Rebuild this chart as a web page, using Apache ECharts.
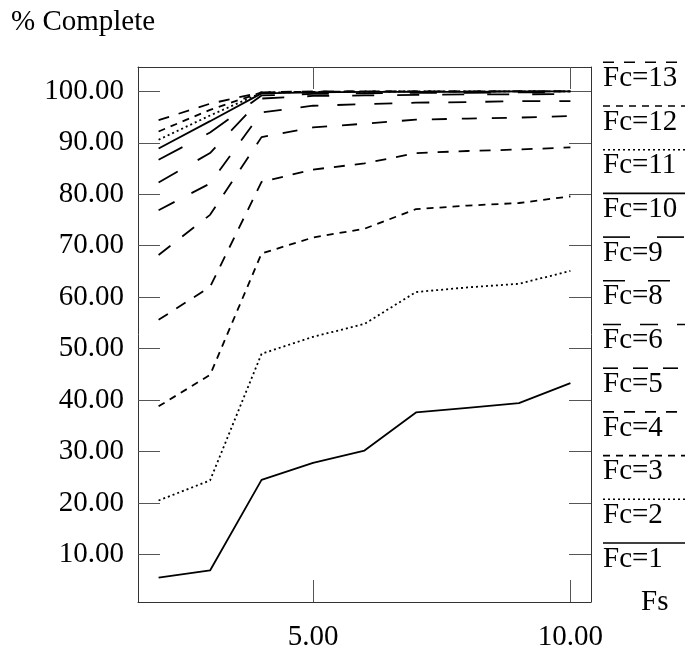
<!DOCTYPE html>
<html>
<head>
<meta charset="utf-8">
<script src="https://cdn.jsdelivr.net/npm/echarts@6/dist/echarts.min.js"></script>
<style>
  html, body { margin: 0; padding: 0; background: #fff; }
  #chart { width: 688px; height: 652px; }
</style>
</head>
<body>
<div id="chart"></div>
<script>
// Fs values along the x axis
var fsValues = [2, 3, 4, 5, 6, 7, 8, 9, 10];
var xTicks = [5, 10];
var yTicks = [10, 20, 30, 40, 50, 60, 70, 80, 90, 100];

var fcNames = ['Fc=1', 'Fc=2', 'Fc=3', 'Fc=4', 'Fc=5', 'Fc=6', 'Fc=8', 'Fc=9', 'Fc=10', 'Fc=11', 'Fc=12', 'Fc=13'];
var fc1 = [5.5, 6.9, 24.5, 27.8, 30.2, 37.6, 38.5, 39.4, 43.3];
var fc2 = [20.5, 24.4, 49.0, 52.3, 54.8, 61.0, 61.9, 62.6, 65.1];
var fc3 = [38.8, 44.9, 68.5, 71.6, 73.3, 77.1, 77.8, 78.3, 79.6];
var fc4 = [55.6, 62.0, 82.4, 84.8, 86.0, 88.0, 88.4, 88.7, 89.1];
var fc5 = [68.2, 76.0, 91.1, 93.0, 93.7, 94.5, 94.7, 94.9, 95.2];
var fc6 = [76.9, 82.1, 95.9, 97.2, 97.5, 97.8, 97.9, 98.1, 98.1];
var fc8 = [82.3, 88.0, 98.6, 99.1, 99.2, 99.3, 99.4, 99.4, 99.5];
var fc9 = [86.7, 92.0, 99.2, 99.5, 99.6, 99.7, 99.7, 99.8, 99.8];
var fc10 = [88.9, 94.2, 99.6, 99.8, 99.9, 99.9, 99.9, 100, 100];
var fc11 = [90.6, 95.3, 99.7, 99.9, 99.9, 100, 100, 100, 100];
var fc12 = [92.2, 96.4, 99.8, 99.9, 100, 100, 100, 100, 100];
var fc13 = [94.4, 97.6, 99.8, 100, 100, 100, 100, 100, 100];
var fcValues = [fc1, fc2, fc3, fc4, fc5, fc6, fc8, fc9, fc10, fc11, fc12, fc13];

// line dash styles repeat every 8 series
var dashes = ['solid', [2, 3], [7, 6], [11, 10], [15, 15], [18, 19], [22, 23], [27, 27]];

var FAMILY = '"Liberation Serif", "DejaVu Serif", serif';
var FONT = '29px ' + FAMILY;

function pad(v) {
  return (v.max - v.min) * 0.05;
}
function fmt(v) {
  return v.toFixed(2);
}

var series = fcValues.map(function (vals, i) {
  return {
    name: fcNames[i],
    type: 'line',
    symbol: 'none',
    silent: true,
    data: fsValues.map(function (x, j) { return [x, vals[j]]; }),
    lineStyle: { color: '#000', width: 1.8, type: dashes[i % 8], cap: 'butt' }
  };
});

// legend: sample line above each label, Fc=1 at the bottom
var legendItems = [];
fcNames.forEach(function (name, i) {
  var y = 543 - i * 43.7;
  legendItems.push({
    type: 'line',
    shape: { x1: 603, y1: y, x2: 685, y2: y },
    style: { stroke: '#000', lineWidth: 1.6, lineDash: dashes[i % 8] === 'solid' ? null : dashes[i % 8] }
  });
  legendItems.push({
    type: 'text',
    x: 603,
    y: y + 16,
    style: { text: name, font: FONT, fill: '#000', textVerticalAlign: 'middle' }
  });
});

var tickStyle = { show: true, inside: true, length: 22, lineStyle: { color: '#555', width: 1 } };
var frameLine = { show: true, lineStyle: { color: '#333', width: 1 } };

var option = {
  animation: false,
  backgroundColor: '#fff',
  title: {
    text: '% Complete',
    left: 6,
    top: 3,
    textStyle: { fontFamily: FAMILY, fontSize: 29, fontWeight: 'normal', color: '#000' }
  },
  grid: { left: 138, right: 97, top: 67, bottom: 50 },
  xAxis: [
    {
      type: 'value',
      min: function (v) { return v.min - pad(v); },
      max: function (v) { return v.max + pad(v); },
      name: 'Fs',
      nameLocation: 'end',
      nameGap: 50,
      nameTextStyle: { fontFamily: FAMILY, fontSize: 29, color: '#000', verticalAlign: 'middle' },
      axisLine: frameLine,
      axisTick: Object.assign({ customValues: xTicks }, tickStyle),
      axisLabel: { customValues: xTicks, formatter: fmt, margin: 21, fontFamily: FAMILY, fontSize: 29, color: '#000' },
      splitLine: { show: false }
    },
    {
      type: 'value',
      position: 'top',
      min: function (v) { return v.min - pad(v); },
      max: function (v) { return v.max + pad(v); },
      axisLine: frameLine,
      axisTick: Object.assign({ customValues: xTicks }, tickStyle),
      axisLabel: { show: false },
      splitLine: { show: false }
    }
  ],
  yAxis: [
    {
      type: 'value',
      min: function (v) { return v.min - pad(v); },
      max: function (v) { return v.max + pad(v); },
      axisLine: frameLine,
      axisTick: Object.assign({ customValues: yTicks }, tickStyle),
      axisLabel: { customValues: yTicks, formatter: fmt, margin: 14, fontFamily: FAMILY, fontSize: 29, color: '#000' },
      splitLine: { show: false }
    },
    {
      type: 'value',
      position: 'right',
      min: function (v) { return v.min - pad(v); },
      max: function (v) { return v.max + pad(v); },
      axisLine: frameLine,
      axisTick: Object.assign({ customValues: yTicks }, tickStyle),
      axisLabel: { show: false },
      splitLine: { show: false }
    }
  ],
  graphic: legendItems,
  series: series
};

// top/right axes need data extent too, so give them an invisible copy
option.series.push({
  type: 'line', xAxisIndex: 1, yAxisIndex: 1, symbol: 'none', silent: true,
  lineStyle: { opacity: 0 },
  data: [].concat.apply([], fcValues.map(function (vals) {
    return fsValues.map(function (x, j) { return [x, vals[j]]; });
  }))
});

echarts.init(document.getElementById('chart')).setOption(option);
</script>
</body>
</html>
